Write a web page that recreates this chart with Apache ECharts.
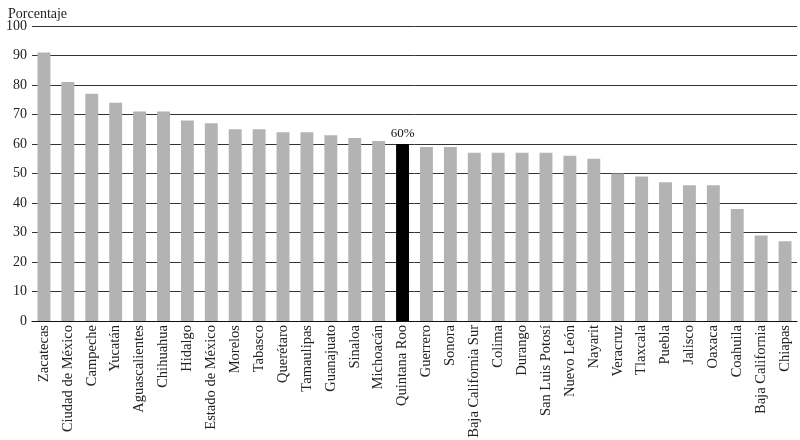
<!DOCTYPE html>
<html>
<head>
<meta charset="utf-8">
<script src="https://cdn.jsdelivr.net/npm/echarts@6/dist/echarts.min.js"></script>
<style>
html,body{margin:0;padding:0;background:#fff;}
#c{width:800px;height:440px;}
</style>
</head>
<body>
<div id="c"></div>
<script>
const categories = ["Zacatecas","Ciudad de México","Campeche","Yucatán","Aguascalientes","Chihuahua","Hidalgo","Estado de México","Morelos","Tabasco","Querétaro","Tamaulipas","Guanajuato","Sinaloa","Michoacán","Quintana Roo","Guerrero","Sonora","Baja California Sur","Colima","Durango","San Luis Potosí","Nuevo León","Nayarit","Veracruz","Tlaxcala","Puebla","Jalisco","Oaxaca","Coahuila","Baja California","Chiapas"];
const values = [91,81,77,74,71,71,68,67,65,65,64,64,63,62,61,60,59,59,57,57,57,57,56,55,50,49,47,46,46,38,29,27];
const highlight = "Quintana Roo";
const yTicks = [0,10,20,30,40,50,60,70,80,90,100];

const font = "'Liberation Serif', 'DejaVu Serif', serif";
const chart = echarts.init(document.getElementById('c'));
chart.setOption({
  animation: false,
  textStyle: {fontFamily: font},
  grid: {left: 32, right: 3, top: 26, bottom: 119, containLabel: false, outerBoundsMode: 'none'},
  title: {text: 'Porcentaje', left: 3, top: 2, textStyle: {fontFamily: font, fontSize: 14, fontWeight: 'normal', color: '#222'}},
  xAxis: {
    type: 'category', data: categories,
    axisLine: {lineStyle: {color: '#111', width: 1}},
    axisTick: {show: false},
    axisLabel: {rotate: 90, interval: 0, fontFamily: font, fontSize: 14.5, color: '#222', margin: 4}
  },
  yAxis: {
    type: 'value', min: yTicks[0], max: yTicks[yTicks.length-1], interval: 10,
    axisLine: {show: false}, axisTick: {show: false},
    axisLabel: {fontFamily: font, fontSize: 14, color: '#222', margin: 5},
    splitLine: {lineStyle: {color: '#333', width: 1}}
  },
  series: [{
    type: 'bar', barWidth: '54%',
    data: values.map((v, i) => categories[i] === highlight
      ? {value: v, itemStyle: {color: '#000'}, label: {show: true, position: 'top', formatter: '{c}%', fontFamily: font, fontSize: 13, color: '#111', distance: 4}}
      : {value: v}),
    itemStyle: {color: '#b3b3b3'}
  }]
});
</script>
</body>
</html>
